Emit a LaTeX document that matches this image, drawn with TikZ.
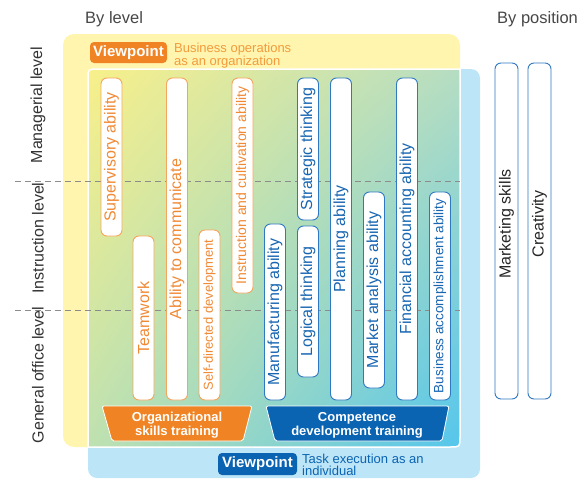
\documentclass[tikz,border=0pt]{standalone}
\usepackage{fontspec}
\setmainfont{Liberation Sans}
\usetikzlibrary{shadings}
\definecolor{yellowbg}{HTML}{FFF5AE}
\definecolor{bluebg}{HTML}{BDE5F8}
\definecolor{vorange}{HTML}{F08424}
\definecolor{torange}{HTML}{F39B3C}
\definecolor{porange}{HTML}{F4A65E}
\definecolor{ptorange}{HTML}{F08A35}
\definecolor{vblue}{HTML}{0A64B2}
\definecolor{pblue}{HTML}{2F78C2}
\definecolor{ptblue}{HTML}{1866B2}
\definecolor{lvltext}{HTML}{333333}
\definecolor{gUL}{HTML}{F8F08A}
\definecolor{gUR}{HTML}{B5DDC2}
\definecolor{gLL}{HTML}{BFE1B0}
\definecolor{gLR}{HTML}{55C6EC}
\begin{document}
\begin{tikzpicture}[x=1pt,y=-1pt,
  pill/.style={rectangle, rounded corners=6pt, fill=white, line width=0.9pt, minimum height=21pt, inner sep=0pt, rotate=90, font=\fontsize{16}{18}\selectfont},
  opill/.style={pill, draw=porange, text=ptorange},
  bpill/.style={pill, draw=pblue, text=ptblue},
  kpill/.style={pill, draw=pblue, minimum height=23pt},
  ktext/.style={rotate=90, inner sep=0pt, text=black!85, font=\fontsize{16}{18}\selectfont},
  lvl/.style={rotate=90, text=lvltext, inner sep=0pt, font=\fontsize{16}{18}\selectfont},
  head/.style={anchor=base west, text=lvltext!90, inner sep=0pt, font=\fontsize{16.5}{18}\selectfont},
  vbox/.style={rectangle, rounded corners=4pt, text=white, inner sep=0pt, font=\fontsize{15}{17}\bfseries\selectfont},
  vtext/.style={anchor=north west, align=left, inner sep=0pt},
  ttext/.style={anchor=base, inner sep=0pt, text=white, font=\fontsize{13}{14}\bfseries\selectfont},
  level line/.style={dashed, dash pattern=on 6pt off 4pt, draw=black!45, line width=0.8pt}
]
\useasboundingbox (0,0) rectangle (579,479);

% headings
\node[head] (bylevel) at (85,23.5) {By level};
\node[head] (bypos) at (497,23.5) {By position};

% background regions
\fill[yellowbg, rounded corners=11pt] (63,34) rectangle (460,447);
\fill[bluebg, rounded corners=9pt] (88,69) rectangle (480,478);
\shade[upper left=gUL, upper right=gUR, lower left=gLL, lower right=gLR]
  (88,447) -- (88,79) .. controls (88,69) .. (98,69) -- (460,69) -- (460,437) .. controls (460,447) .. (450,447) -- cycle;
\draw[white, line width=1.5pt]
  (88,447) -- (88,79) .. controls (88,69) .. (98,69) -- (460,69) -- (460,437) .. controls (460,447) .. (450,447) -- cycle;

% level separators
\coordinate (l1a) at (15,181.5);
\coordinate (l1b) at (460,181.5);
\coordinate (l2a) at (15,310.5);
\coordinate (l2b) at (460,310.5);
\draw[level line] (l1a) -- (l1b);
\draw[level line] (l2a) -- (l2b);

% level labels
\node[lvl] (mgr) at (38,105) {Managerial level};
\node[lvl] (instr) at (38,238) {Instruction level};
\node[lvl] (gen) at (38,375) {General office level};

% viewpoints
\node[vbox, fill=vorange, minimum width=77pt, minimum height=21pt] (vp1) at (128.5,52.5) {Viewpoint};
\node[vtext, text=torange, font=\fontsize{13}{11.5}\selectfont] (vp1a) at (174,42.6) {Business operations\\as an organization};
\node[vbox, fill=vblue, minimum width=79pt, minimum height=22pt] (vp2) at (257.5,464) {Viewpoint};
\node[vtext, text=vblue, font=\fontsize{13}{11.5}\selectfont] (vp2a) at (302,454.2) {Task execution as an\\individual};

% organizational skills (orange)
\node[opill, minimum width=158pt] (sup) at (111.5,157) {Supervisory ability};
\node[opill, minimum width=164pt] (team) at (143.5,318) {Teamwork};
\node[opill, minimum width=322pt] (comm) at (177,239) {Ability to communicate};
\node[opill, minimum width=170pt, font=\fontsize{13}{15}\selectfont] (self) at (209.5,315) {Self-directed development};
\node[opill, minimum width=215pt, font=\fontsize{14}{16}\selectfont] (instc) at (242.5,185.5) {Instruction and cultivation ability};

% competence development (blue)
\node[bpill, minimum width=176pt] (manu) at (275,312) {Manufacturing ability};
\node[bpill, minimum width=142pt] (strat) at (308,149) {Strategic thinking};
\node[bpill, minimum width=151pt] (logic) at (308,301.5) {Logical thinking};
\node[bpill, minimum width=322pt] (plan) at (341,239) {Planning ability};
\node[bpill, minimum width=196pt] (market) at (374,290) {Market analysis ability};
\node[bpill, minimum width=322pt] (fin) at (407,239) {Financial accounting ability};
\node[bpill, minimum width=208pt, font=\fontsize{13.5}{15}\selectfont] (busi) at (440,296) {Business accomplishment ability};

% by position
\node[kpill, minimum width=336pt] (mkts) at (506.5,231) {};
\node[ktext] (mktst) at (506.5,224) {Marketing skills};
\node[kpill, minimum width=336pt] (creat) at (539.5,231) {};
\node[ktext] (creatt) at (539.5,224) {Creativity};

% trainings
\fill[vorange, draw=white, line width=0.8pt, rounded corners=2pt] (102,406) -- (252,406) -- (243,441) -- (112,441) -- cycle;
\node[ttext] (org1) at (177,421) {Organizational};
\node[ttext] (org2) at (177,435) {skills training};
\fill[vblue, draw=white, line width=0.8pt, rounded corners=2pt] (266,406) -- (449,406) -- (442,441) -- (275,441) -- cycle;
\node[ttext] (cmp1) at (357,421) {Competence};
\node[ttext] (cmp2) at (357,435) {development training};
\end{tikzpicture}
\end{document}
